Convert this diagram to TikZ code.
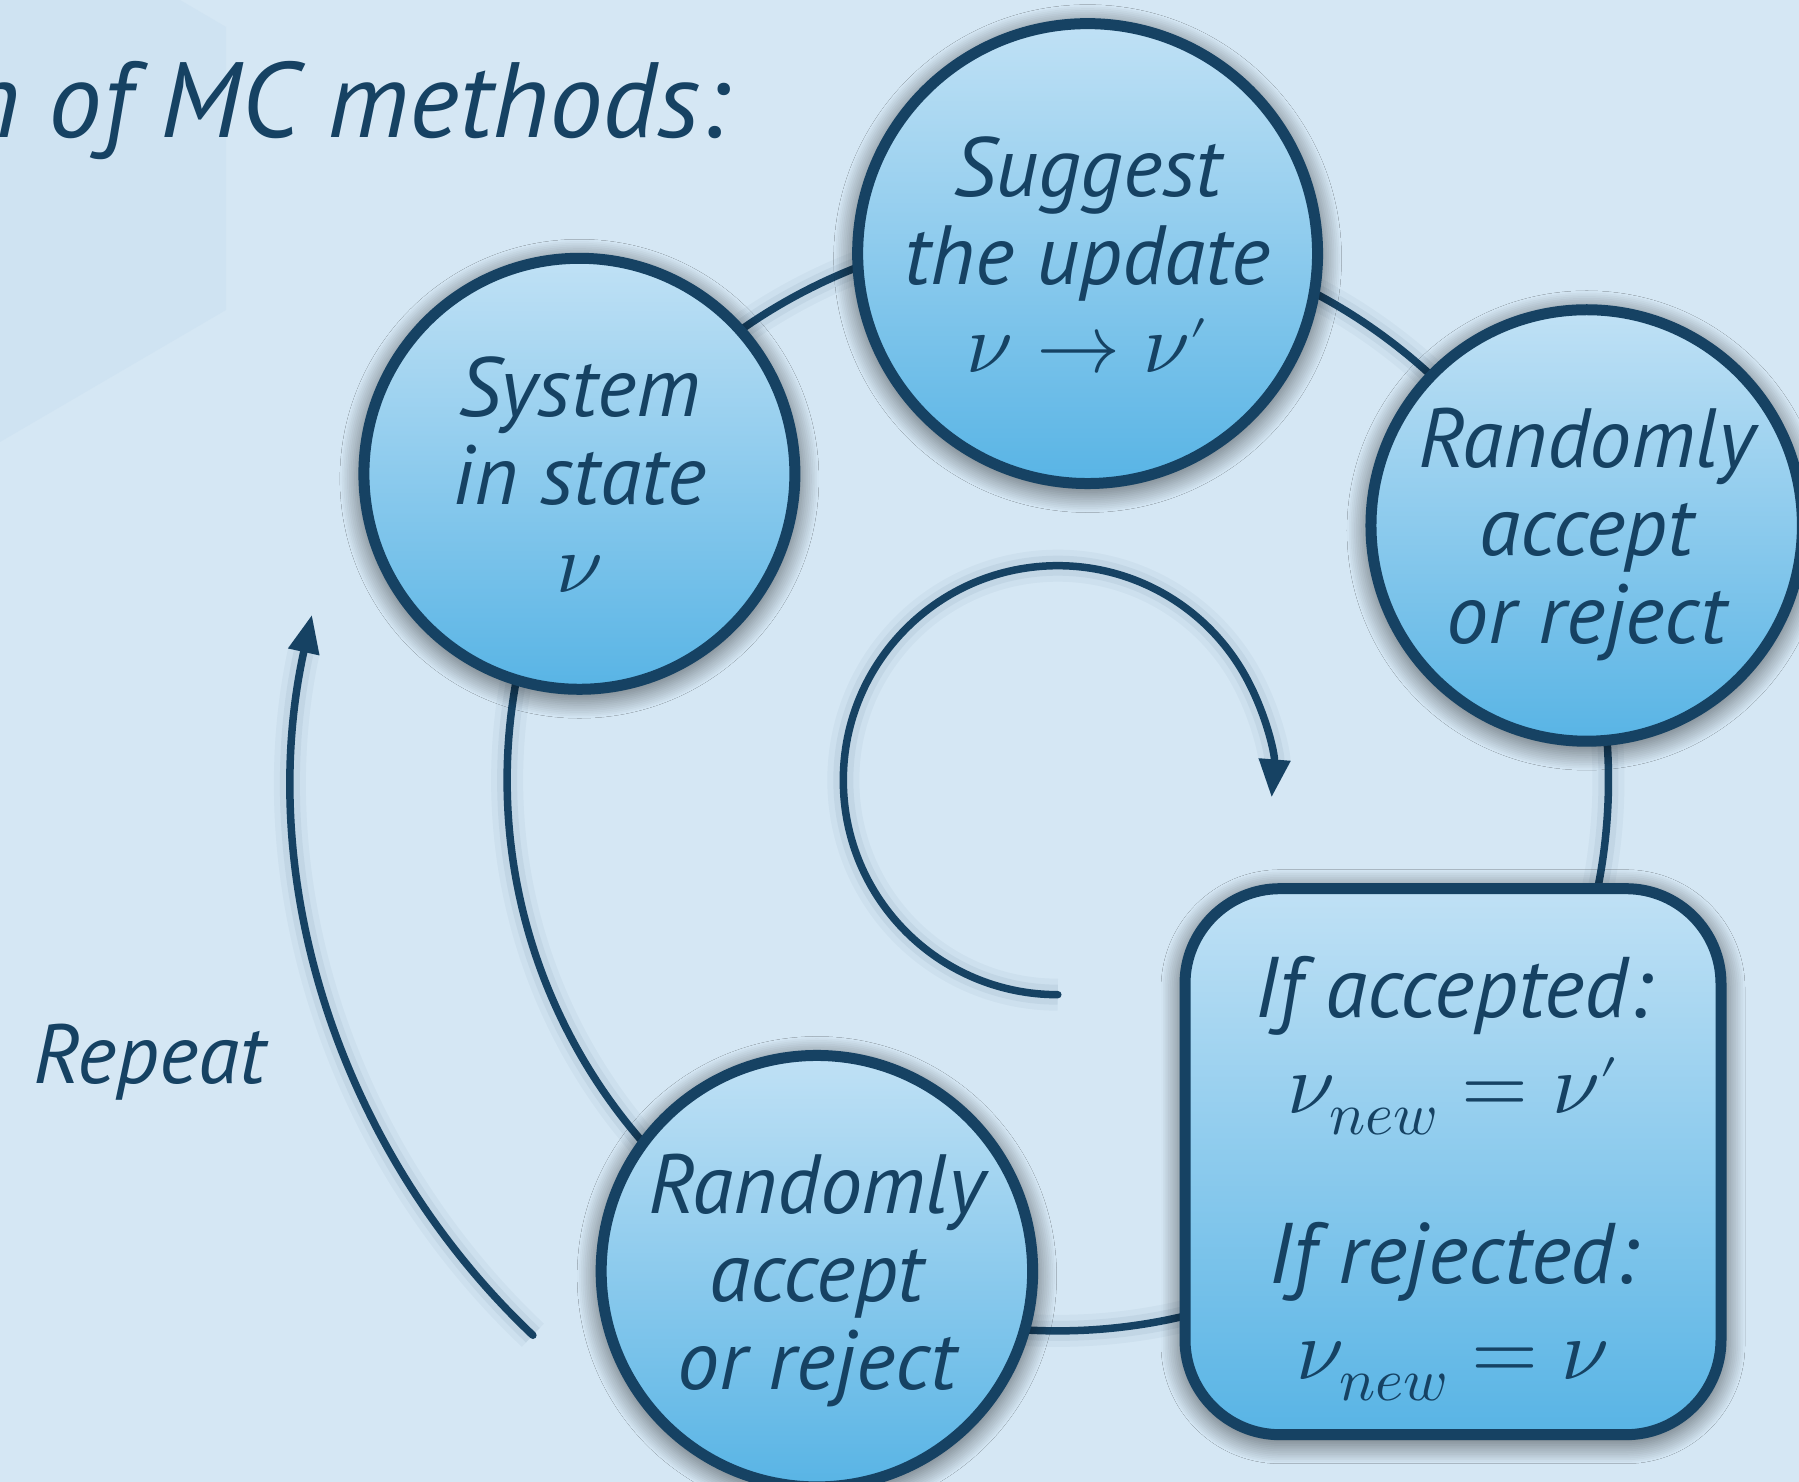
\documentclass[tikz,border=0pt]{standalone}
\usepackage{fontspec}
\usepackage{unicode-math}
\setmainfont{PT Sans}
\setmathfont{Latin Modern Math}
\usetikzlibrary{shadows.blur,arrows.meta}
\definecolor{bg}{RGB}{213,231,244}
\definecolor{bghex}{RGB}{207,227,242}
\definecolor{navy}{RGB}{22,66,99}
\definecolor{ctop}{RGB}{192,225,245}
\definecolor{cbot}{RGB}{88,180,229}
\newcommand\circfont{\fontsize{84}{88}\selectfont\itshape}
\newcommand\boxfont{\fontsize{86}{96}\selectfont\itshape}
\newcommand\titlefont{\fontsize{107}{110}\selectfont\itshape}
\newcommand\repfont{\fontsize{84}{86}\selectfont\itshape}
\newcommand\myprime{\raisebox{-20pt}{$'$}}
\begin{document}
\begin{tikzpicture}[x=1pt,y=1pt,
  nshadow/.style={blur shadow={shadow xshift=0pt,shadow yshift=-5pt,shadow blur radius=24pt,shadow blur steps=14,shadow opacity=75}},
  state/.style={circle,draw=navy,line width=11pt,minimum size=431pt,inner sep=0pt,
    top color=ctop,bottom color=cbot,text=navy,align=center,font=\circfont,nshadow},
  resbox/.style={rectangle,rounded corners=95pt,draw=navy,line width=11pt,minimum width=536pt,minimum height=546pt,
    inner sep=0pt,top color=ctop,bottom color=cbot,text=navy,align=center,font=\boxfont,nshadow},
  lshadow/.style={preaction={draw=navy,line width=32pt,opacity=0.04},preaction={draw=navy,line width=20pt,opacity=0.06}},
  conn/.style={draw=navy,line width=7.5pt,lshadow},
  arr/.style={draw=navy,line width=7.5pt,line cap=round,lshadow,-{Triangle[length=38pt,width=30pt]}},
  lbl/.style={text=navy,inner sep=0pt}]
\useasboundingbox (0,0) rectangle (1799,1482);
\clip (0,0) rectangle (1799,1482);
\fill[bg] (0,0) rectangle (1799,1482);
\fill[bghex] (0,1040) -- (226,1172) -- (226,1455) -- (180,1482) -- (0,1482) -- cycle;

\coordinate (c) at (1057.8,701.8);

% connectors of the cycle
\draw[conn] ([shift={(147.4:550.7)}]c) arc[start angle=147.4,end angle=86.8,radius=550.7];
\draw[conn] ([shift={(86.8:550.7)}]c) arc[start angle=86.8,end angle=25.7,radius=550.7];
\draw[conn] ([shift={(25.7:550.7)}]c) arc[start angle=25.7,end angle=-44,radius=550.7];
\draw[conn] ([shift={(-44:550.7)}]c) arc[start angle=-44,end angle=-116.1,radius=550.7];
\draw[conn] ([shift={(-116.1:550.7)}]c) arc[start angle=-116.1,end angle=-212.6,radius=550.7];

% inner loop arrow
\draw[arr] ([shift={(270:214.5)}]c) arc[start angle=270,end angle=-4.6,radius=214.5];
% repeat arrow
\draw[arr] ([shift={(226.6:764)}]c) arc[start angle=226.6,end angle=167.5,radius=764];

\node[state] (sys) at (579.4,1008.2) {\rule{0pt}{62pt}System\\in state\\$\nu$};
\node[state] (sug) at (1087.6,1228.4) {\rule{0pt}{82pt}Suggest\\the update\\$\nu\to\nu$\myprime};
\node[state] (rr) at (1586.7,956.5) {\rule{0pt}{78pt}Randomly\\accept\\or reject};
\node[state] (bot) at (816.9,210.8) {\rule{0pt}{78pt}Randomly\\accept\\or reject};
\node[resbox] (box) at (1453,320.3) {\rule{0pt}{95pt}If accepted:\\$\nu_{new}=\nu$\myprime\\[74pt]If rejected:\\$\nu_{new}=\nu$};

\node[lbl,font=\titlefont,anchor=base east] (title) at (728.5,1344) {n of MC methods:};
\node[lbl,font=\repfont,anchor=base] (rep) at (149.5,398) {Repeat};
\end{tikzpicture}
\end{document}
